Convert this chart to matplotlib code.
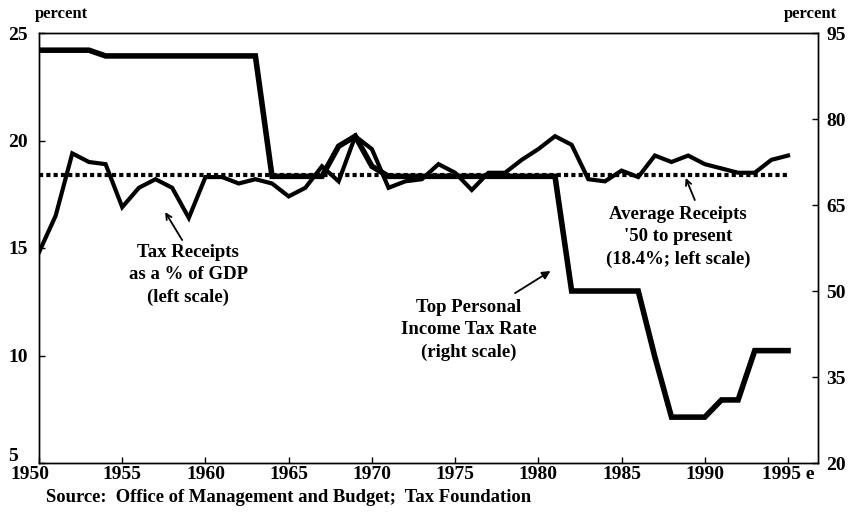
import matplotlib
matplotlib.use("Agg")
import matplotlib.pyplot as plt
from matplotlib.transforms import ScaledTranslation

years = list(range(1950, 1996))
receipts = [14.8, 16.5, 19.4, 19.0, 18.9, 16.9, 17.8, 18.2, 17.8, 16.4,
            18.3, 18.3, 18.0, 18.2, 18.0, 17.4, 17.8, 18.8, 18.1, 20.2,
            19.6, 17.8, 18.1, 18.2, 18.9, 18.5, 17.7, 18.5, 18.5, 19.1,
            19.6, 20.2, 19.8, 18.2, 18.1, 18.6, 18.3, 19.3, 19.0, 19.3,
            18.9, 18.7, 18.5, 18.5, 19.1, 19.3]
top_rate = [92, 92, 92, 92, 91, 91, 91, 91, 91, 91,
            91, 91, 91, 91, 70, 70, 70, 70, 75.25, 77,
            71.75, 70, 70, 70, 70, 70, 70, 70, 70, 70,
            70, 70, 50, 50, 50, 50, 50, 38.5, 28, 28,
            28, 31, 31, 39.6, 39.6, 39.6]
average_receipts = 18.4
avg_span = [1950, 1995]

left_ticks = [5, 10, 15, 20, 25]
right_ticks = [20, 35, 50, 65, 80, 95]
x_ticks = [1950, 1955, 1960, 1965, 1970, 1975, 1980, 1985, 1990, 1995]
x_tick_labels = ["1950", "1955", "1960", "1965", "1970", "1975", "1980", "1985", "1990", "1995 e"]

FONT = "Liberation Serif"
plt.rcParams["font.family"] = [FONT, "DejaVu Serif"]
plt.rcParams["font.weight"] = "bold"

fig = plt.figure(figsize=(8.5, 5.12), dpi=100)
ax = fig.add_axes([39/850, 1 - 463/512, (818-39)/850, (463-33)/512])
ax2 = ax.twinx()

ax.set_xlim(1950, 1996.8)
ax.set_ylim(5, 25)
ax2.set_ylim(20, 95)

ax.plot(avg_span, [average_receipts]*2, color="black", lw=3.0,
        linestyle=(0, (1, 0.75)), dash_capstyle="butt", zorder=2)
ax.plot(years, receipts, color="black", lw=3.0, solid_joinstyle="miter", zorder=3)
ax2.plot(years, top_rate, color="black", lw=4.0, solid_joinstyle="miter", zorder=3)

for a in (ax, ax2):
    for s in a.spines.values():
        s.set_linewidth(1.0)

ax.set_yticks(left_ticks)
ax.set_yticklabels([str(t) for t in left_ticks])
ax.tick_params(axis="y", direction="in", length=4, width=1, pad=22, labelsize=14)
for lab in ax.get_yticklabels():
    lab.set_horizontalalignment("left")
ax2.set_yticks(right_ticks)
ax2.set_yticklabels([str(t) for t in right_ticks])
ax2.tick_params(axis="y", direction="in", length=4, width=1, pad=6, labelsize=14)
ax.set_xticks(x_ticks)
ax.set_xticklabels(x_tick_labels)
ax.tick_params(axis="x", direction="in", length=4, width=1, pad=2.5, labelsize=14)
first = ax.get_xticklabels()[0]
first.set_transform(first.get_transform() + ScaledTranslation(-0.09, 0, fig.dpi_scale_trans))
bottom = ax.get_yticklabels()[0]
bottom.set_verticalalignment("bottom")
bottom.set_transform(bottom.get_transform() + ScaledTranslation(0, -0.02, fig.dpi_scale_trans))

fig.text(61/850, 1 - 14/512, "percent", ha="center", va="center", fontsize=12, fontweight="bold")
fig.text(810/850, 1 - 14/512, "percent", ha="center", va="center", fontsize=12, fontweight="bold")
fig.text(46/850, 1 - 497/512, "Source:  Office of Management and Budget;  Tax Foundation",
         ha="left", va="center", fontsize=13.4, fontweight="bold")

ANN = dict(ha="center", va="center", fontsize=13.5, fontweight="bold", linespacing=1.38)

ax.text(1958.96, 13.74, "Tax Receipts\nas a % of GDP\n(left scale)", **ANN)
ax.annotate("", xy=(1957.58, 16.67), xytext=(1958.6, 15.37),
            arrowprops=dict(arrowstyle="->", lw=1.3, color="black", shrinkA=0, shrinkB=0))

ax.text(1975.8, 11.19, "Top Personal\nIncome Tax Rate\n(right scale)", **ANN)
ax.annotate("", xy=(1980.73, 13.93), xytext=(1978.6, 12.9),
            arrowprops=dict(arrowstyle="-|>", lw=1.3, color="black", shrinkA=0, shrinkB=0,
                            mutation_scale=12))

ax.text(1988.4, 15.51, "Average Receipts\n'50 to present\n(18.4%; left scale)", **ANN)
ax.annotate("", xy=(1988.85, 18.26), xytext=(1989.4, 17.23),
            arrowprops=dict(arrowstyle="->", lw=1.3, color="black", shrinkA=0, shrinkB=0))

fig.savefig("out.png", dpi=100)
